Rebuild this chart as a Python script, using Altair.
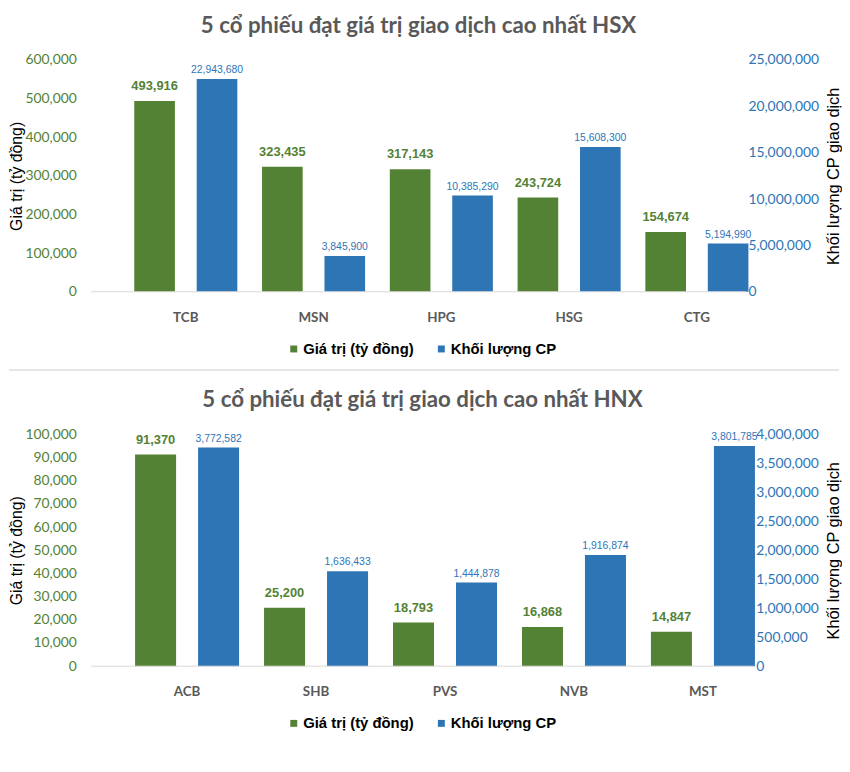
import altair as alt
import pandas as pd

SERIES = ["Giá trị (tỷ đồng)", "Khối lượng CP"]
COLORS = ["#548235", "#2E75B6"]

hsx_title = "5 cổ phiếu đạt giá trị giao dịch cao nhất HSX"
hsx_tickers = ["TCB", "MSN", "HPG", "HSG", "CTG"]
hsx_value = [493916, 323435, 317143, 243724, 154674]
hsx_volume = [22943680, 3845900, 10385290, 15608300, 5194990]
hsx_value_ticks = [0, 100000, 200000, 300000, 400000, 500000, 600000]
hsx_volume_ticks = [0, 5000000, 10000000, 15000000, 20000000, 25000000]

hnx_title = "5 cổ phiếu đạt giá trị giao dịch cao nhất HNX"
hnx_tickers = ["ACB", "SHB", "PVS", "NVB", "MST"]
hnx_value = [91370, 25200, 18793, 16868, 14847]
hnx_volume = [3772582, 1636433, 1444878, 1916874, 3801785]
hnx_value_ticks = [0, 10000, 20000, 30000, 40000, 50000, 60000, 70000, 80000, 90000, 100000]
hnx_volume_ticks = [0, 500000, 1000000, 1500000, 2000000, 2500000, 3000000, 3500000, 4000000]

H = 234
LABEL_FONT = "Liberation Sans"
FMT = "format(datum.value, ',')"


def panel(title, tickers, values, volumes, vticks, qticks, width, band_range, right_title_x, separator):
    df = pd.DataFrame({
        "ticker": tickers + tickers,
        "series": [SERIES[0]] * len(tickers) + [SERIES[1]] * len(tickers),
        "amount": values + volumes,
    })
    base = alt.Chart(df).encode(
        x=alt.X("ticker:N", sort=tickers,
                scale=alt.Scale(range=band_range, paddingInner=0, paddingOuter=0),
                axis=alt.Axis(title=None, domain=False, ticks=False, tickSize=0, labelAngle=0,
                              labelFont="Lato", labelFontWeight="bold", labelFontSize=13.5,
                              labelColor="#595959", labelPadding=19)),
        xOffset=alt.XOffset("series:N", sort=SERIES,
                            scale=alt.Scale(domain=SERIES, paddingInner=0.349, paddingOuter=0.198)),
        color=alt.Color("series:N", scale=alt.Scale(domain=SERIES, range=COLORS),
                        legend=alt.Legend(title=None, orient="none", legendX=197, legendY=284,
                                          direction="horizontal", symbolType="square",
                                          symbolSize=49, symbolStrokeWidth=0, padding=0,
                                          labelFont="Liberation Sans", labelFontWeight="bold",
                                          labelFontSize=15, labelColor="#000000",
                                          labelOffset=2, columnPadding=20)),
    )
    g = base.transform_filter(alt.datum.series == SERIES[0])
    b = base.transform_filter(alt.datum.series == SERIES[1])
    yl = alt.Y("amount:Q", scale=alt.Scale(domain=[0, vticks[-1]]),
               axis=alt.Axis(values=vticks, labelExpr=FMT, grid=False, domain=False, ticks=False,
                             tickSize=0, labelColor="#548235", labelFont="Lato", labelFontSize=14,
                             labelPadding=15, title=SERIES[0], titleFont="Liberation Sans",
                             titleFontSize=16, titleFontWeight="normal", titleColor="#000000",
                             titleX=-75, titleY=H / 2, titleAngle=270, titleAlign="center",
                             titleBaseline="middle"))
    yr = alt.Y("amount:Q", scale=alt.Scale(domain=[0, qticks[-1]]),
               axis=alt.Axis(orient="right", values=qticks, labelExpr=FMT, grid=False, domain=False,
                             ticks=False, tickSize=0, labelColor="#2E75B6", labelFont="Lato",
                             labelFontSize=14, labelPadding=2, title="Khối lượng CP giao dịch",
                             titleFont="Liberation Sans", titleFontSize=16.5, titleFontWeight="normal",
                             titleColor="#000000", titleX=right_title_x, titleY=H / 2,
                             titleAngle=270, titleAlign="center", titleBaseline="middle"))
    green = alt.layer(
        g.mark_bar().encode(y=yl),
        g.mark_text(baseline="alphabetic", dy=-11, font=LABEL_FONT, fontWeight="bold",
                    fontSize=13).encode(y=yl, text=alt.Text("amount:Q", format=",")),
    )
    blue = alt.layer(
        b.mark_bar().encode(y=yr),
        b.mark_text(baseline="alphabetic", dy=-6, font=LABEL_FONT, fontSize=10.5).encode(
            y=yr, text=alt.Text("amount:Q", format=",")),
    )
    one = pd.DataFrame({"z": [0]})
    layers = [green, blue,
              alt.Chart(one).mark_rule(color="#d9d9d9", strokeWidth=1).encode(
                  x=alt.value(0), x2=alt.value(width), y=alt.value(H))]
    if separator:
        layers.append(alt.Chart(one).mark_rule(color="#e6e6e6", strokeWidth=2).encode(
            x=alt.value(-83), x2=alt.value(755), y=alt.value(313)))
    return alt.layer(*layers).resolve_scale(y="independent").properties(
        width=width, height=H,
        title=alt.TitleParams(title, font="Lato", fontSize=22.5, fontWeight="bold",
                              color="#595959", anchor="middle", frame="group", offset=16))


top = panel(hsx_title, hsx_tickers, hsx_value, hsx_volume, hsx_value_ticks, hsx_volume_ticks,
            661, [31, 676], 88, True)
bottom = panel(hnx_title, hnx_tickers, hnx_value, hnx_volume, hnx_value_ticks, hnx_volume_ticks,
               669, [31.7, 682.7], 80, False)

chart = alt.vconcat(top, bottom, spacing=18).resolve_scale(
    x="independent", y="independent", color="independent", xOffset="independent"
).configure_view(stroke=None).properties(
    padding={"left": 0, "top": 3, "right": 0, "bottom": 0}, background="white")

chart.save("out.html", embed_options={"renderer": "svg", "actions": False})
